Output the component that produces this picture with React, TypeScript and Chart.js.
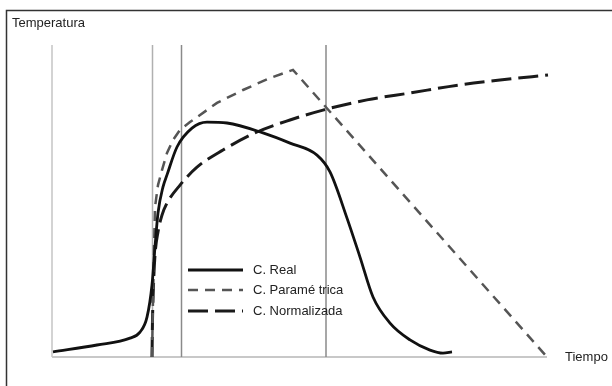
import React, { useEffect, useRef } from "react";
import { Chart, registerables } from "chart.js";

Chart.register(...registerables);

// Time axis (arbitrary units 0..99), temperature axis (arbitrary units 0..104)
const realTime = [0.2, 9, 15.6, 17.6, 19, 20, 20.6, 21.2, 22.2, 23, 25, 28, 31, 35, 42.2, 47.6, 53, 55.6, 59, 61.6, 64.2, 67.6, 71.6, 75.6, 78.2, 80];
const realTemp = [1.7, 4, 6.3, 8.3, 13.3, 24, 36.7, 48, 56.7, 60.7, 70, 76.3, 78.3, 78, 74.7, 71.3, 67.3, 61.7, 46.3, 33.3, 20, 11.3, 5.7, 2.3, 1.3, 1.7];

const paramTime = [20, 20.2, 20.4, 20.6, 21.2, 22, 23, 24.2, 25.6, 27.6, 33, 38.2, 43.6, 48.2, 99];
const paramTemp = [0, 19, 35.7, 50, 57.3, 62.3, 68, 72.3, 75.7, 78.3, 84.7, 89, 93, 95.7, 0];

const normTime = [20, 20.1, 20.3, 20.6, 21.2, 22, 23, 25.6, 29, 34.2, 41, 47.6, 54.2, 63, 71.6, 81.6, 89.6, 99.2];
const normTemp = [0, 12.3, 24, 34, 41.7, 47.3, 51.3, 57.3, 63.3, 69, 75, 79, 82.3, 85.7, 88, 90.7, 92.3, 94];

const markerTimes = [20.1, 25.9, 54.8];
const seriesNames = ["C. Real", "C. Paramé trica", "C. Normalizada"];
const yTitle = "Temperatura";
const xTitle = "Tiempo";

const toPoints = (xs: number[], ys: number[]) => xs.map((x, i) => ({ x, y: ys[i] }));

const FONT = '13px "Liberation Sans", Arial, sans-serif';

const decorPlugin = {
  id: "decor",
  beforeDatasetsDraw(chart: any) {
    const { ctx, chartArea, scales } = chart;
    const xs = scales.x;
    ctx.save();
    // y axis line
    ctx.strokeStyle = "#c4c4c4";
    ctx.lineWidth = 1.5;
    ctx.beginPath();
    ctx.moveTo(chartArea.left, chartArea.top);
    ctx.lineTo(chartArea.left, chartArea.bottom);
    ctx.stroke();
    // x axis line
    ctx.strokeStyle = "#c8c8c8";
    ctx.lineWidth = 2;
    ctx.beginPath();
    ctx.moveTo(chartArea.left, chartArea.bottom);
    ctx.lineTo(chartArea.right, chartArea.bottom);
    ctx.stroke();
    // marker verticals
    const cols = ["#b0b0b0", "#8a8a8a", "#8a8a8a"];
    markerTimes.forEach((t, i) => {
      const px = xs.getPixelForValue(t);
      ctx.strokeStyle = cols[i % cols.length];
      ctx.lineWidth = 1.5;
      ctx.beginPath();
      ctx.moveTo(px, chartArea.top);
      ctx.lineTo(px, chartArea.bottom);
      ctx.stroke();
    });
    ctx.restore();
  },
  afterDraw(chart: any) {
    const { ctx, chartArea } = chart;
    ctx.save();
    // frame (cropped at right and bottom)
    ctx.strokeStyle = "#333";
    ctx.lineWidth = 1.5;
    ctx.beginPath();
    ctx.moveTo(6.5, chart.height);
    ctx.lineTo(6.5, 10.5);
    ctx.lineTo(chart.width, 10.5);
    ctx.stroke();
    // axis titles
    ctx.fillStyle = "#222";
    ctx.font = FONT;
    ctx.textBaseline = "middle";
    ctx.textAlign = "left";
    ctx.fillText(yTitle, 12, 23);
    ctx.fillText(xTitle, chartArea.right + 18, chartArea.bottom);
    // legend
    const ds = chart.data.datasets;
    const lx0 = 188;
    const lx1 = 243;
    const ly = [270, 290, 311];
    ds.forEach((d: any, i: number) => {
      ctx.strokeStyle = d.borderColor;
      ctx.lineWidth = d.borderWidth;
      ctx.setLineDash(d.borderDash || []);
      ctx.beginPath();
      ctx.moveTo(lx0, ly[i]);
      ctx.lineTo(lx1, ly[i]);
      ctx.stroke();
      ctx.setLineDash([]);
      ctx.fillStyle = "#222";
      ctx.fillText(seriesNames[i], 253, ly[i]);
    });
    ctx.restore();
  },
};

export default function App() {
  const ref = useRef<HTMLCanvasElement>(null);
  useEffect(() => {
    if (!ref.current) return;
    const chart = new Chart(ref.current, {
      type: "line",
      data: {
        datasets: [
          {
            label: seriesNames[0],
            data: toPoints(realTime, realTemp),
            borderColor: "#111",
            borderWidth: 2.8,
            pointRadius: 0,
            cubicInterpolationMode: "monotone",
            fill: false,
            clip: 6,
          },
          {
            label: seriesNames[1],
            data: toPoints(paramTime, paramTemp),
            borderColor: "#555",
            borderWidth: 2.5,
            borderDash: [10, 7],
            pointRadius: 0,
            tension: 0,
            fill: false,
            clip: 6,
          },
          {
            label: seriesNames[2],
            data: toPoints(normTime, normTemp),
            borderColor: "#1a1a1a",
            borderWidth: 3,
            borderDash: [20, 7],
            pointRadius: 0,
            cubicInterpolationMode: "monotone",
            fill: false,
            clip: 6,
          },
        ],
      },
      options: {
        animation: false,
        responsive: false,
        maintainAspectRatio: false,
        layout: { padding: { left: 52, right: 65, top: 45, bottom: 29 } },
        plugins: { legend: { display: false }, tooltip: { enabled: false } },
        scales: {
          x: { type: "linear", min: 0, max: 99, display: false },
          y: { type: "linear", min: 0, max: 104, display: false },
        },
      },
      plugins: [decorPlugin],
    } as any);
    return () => chart.destroy();
  }, []);
  return (
    <div style={{ position: "fixed", left: 0, top: 0, width: 612, height: 386, background: "#fff" }}>
      <canvas ref={ref} width={612} height={386} style={{ display: "block" }} />
    </div>
  );
}
